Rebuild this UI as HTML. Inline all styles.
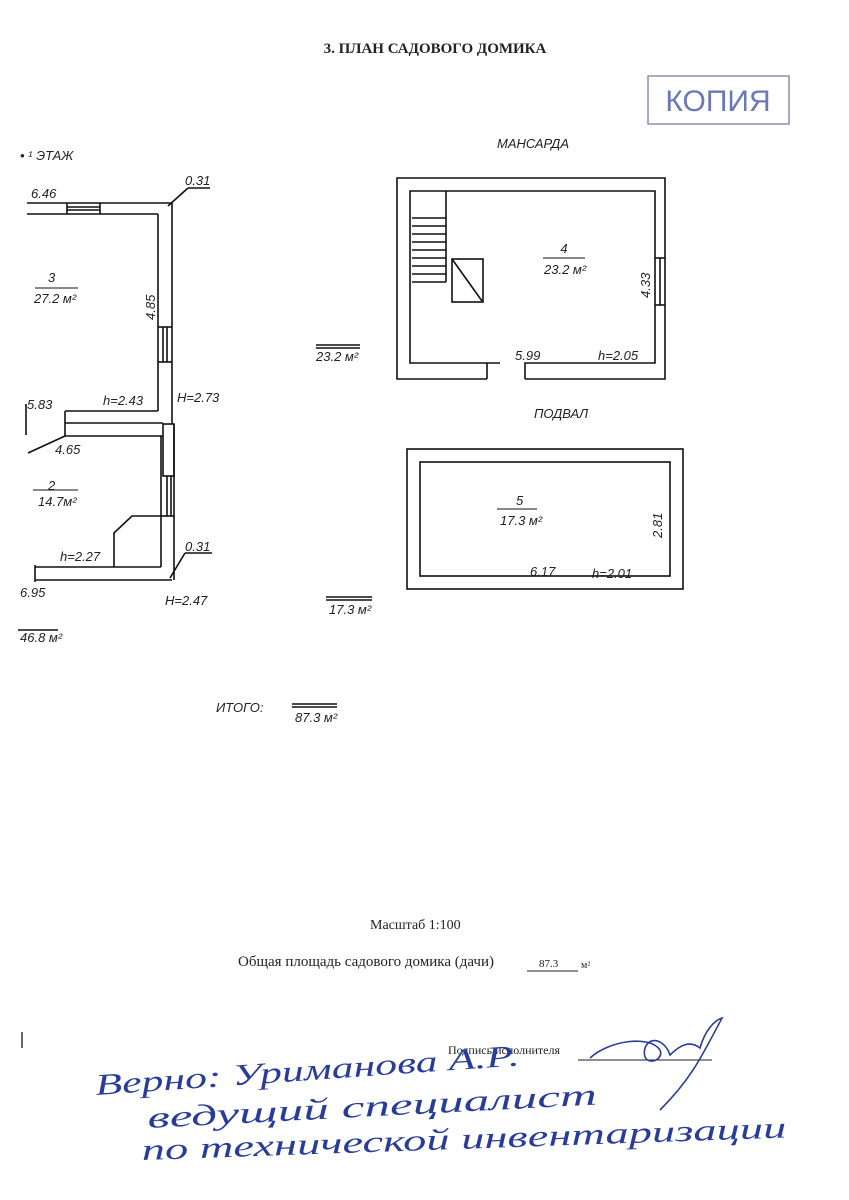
<!DOCTYPE html>
<html><head><meta charset="utf-8"><style>
html,body{margin:0;padding:0;background:#fff;}
svg{display:block;}
.t{font-family:"Liberation Sans","DejaVu Sans",sans-serif;font-style:italic;font-size:13px;fill:#222;}
.s{font-family:"Liberation Serif","DejaVu Serif",serif;fill:#222;}
.h{font-family:"Liberation Serif",serif;font-style:italic;fill:#2a3c9a;font-size:30px;}
</style></head><body>
<svg width="849" height="1200" viewBox="0 0 849 1200" xmlns="http://www.w3.org/2000/svg">
<rect width="849" height="1200" fill="#fff"/>
<text x="435" y="53" class="s" font-size="15" font-weight="bold" text-anchor="middle">3. ПЛАН САДОВОГО ДОМИКА</text>
<rect x="648" y="76" width="141" height="48" fill="none" stroke="#8a90b0" stroke-width="1.5"/>
<text x="718" y="111" font-family="Liberation Sans,sans-serif" font-size="30" fill="#6a78b8" text-anchor="middle">КОПИЯ</text>

<g stroke="#111" stroke-width="1.6" fill="none">
<line x1="27" y1="203" x2="172" y2="203"/>
<line x1="27" y1="214" x2="158" y2="214"/>
<line x1="67" y1="203" x2="67" y2="214"/><line x1="100" y1="203" x2="100" y2="214"/>
<line x1="67" y1="207" x2="100" y2="207"/><line x1="67" y1="210" x2="100" y2="210"/>
<line x1="172" y1="203" x2="172" y2="424"/>
<line x1="158" y1="214" x2="158" y2="411"/>
<line x1="158" y1="327" x2="172" y2="327"/><line x1="158" y1="362" x2="172" y2="362"/>
<line x1="163" y1="327" x2="163" y2="362"/><line x1="167" y1="327" x2="167" y2="362"/>
<line x1="188" y1="188" x2="168" y2="206"/><line x1="188" y1="188" x2="210" y2="188"/>
<line x1="65" y1="411" x2="158" y2="411"/>
<line x1="65" y1="423" x2="163" y2="423"/>
<line x1="65" y1="436" x2="163" y2="436"/>
<line x1="65" y1="411" x2="65" y2="436"/>
<line x1="65" y1="436" x2="28" y2="453"/>
<line x1="26" y1="404" x2="26" y2="435"/>
<rect x="163" y="424" width="11" height="52"/>
<line x1="174" y1="424" x2="174" y2="580"/>
<line x1="161" y1="436" x2="161" y2="567"/>
<line x1="167" y1="476" x2="167" y2="516"/><line x1="171" y1="476" x2="171" y2="516"/>
<line x1="161" y1="516" x2="174" y2="516"/>
<line x1="35" y1="567" x2="161" y2="567"/>
<line x1="35" y1="580" x2="172" y2="580"/>
<line x1="35" y1="565" x2="35" y2="582"/>
<polyline points="114,567 114,533 132,516 161,516"/>
<line x1="185" y1="553" x2="170" y2="578"/><line x1="185" y1="553" x2="212" y2="553"/>
<line x1="18" y1="630" x2="58" y2="630"/>

<polyline points="487,379 397,379 397,178 665,178 665,379 525,379"/>
<line x1="487" y1="379" x2="487" y2="369"/><line x1="525" y1="379" x2="525" y2="369"/>
<polyline points="500,363 410,363 410,191 655,191 655,363 525,363 525,369"/>
<line x1="487" y1="363" x2="487" y2="369"/>
<line x1="655" y1="258" x2="665" y2="258"/><line x1="655" y1="305" x2="665" y2="305"/>
<line x1="660" y1="258" x2="660" y2="305"/>
<line x1="446" y1="191" x2="446" y2="282"/>
<line x1="412" y1="218" x2="446" y2="218"/><line x1="412" y1="226" x2="446" y2="226"/>
<line x1="412" y1="234" x2="446" y2="234"/><line x1="412" y1="242" x2="446" y2="242"/>
<line x1="412" y1="250" x2="446" y2="250"/><line x1="412" y1="258" x2="446" y2="258"/>
<line x1="412" y1="266" x2="446" y2="266"/><line x1="412" y1="274" x2="446" y2="274"/>
<line x1="412" y1="282" x2="446" y2="282"/>
<rect x="452" y="259" width="31" height="43"/>
<line x1="452" y1="259" x2="482" y2="301"/>
<line x1="543" y1="258" x2="585" y2="258" stroke-width="1"/>
<line x1="316" y1="345" x2="360" y2="345"/><line x1="316" y1="348" x2="360" y2="348"/>
<rect x="407" y="449" width="276" height="140"/>
<rect x="420" y="462" width="250" height="114"/>
<line x1="497" y1="509" x2="537" y2="509" stroke-width="1"/>
<line x1="326" y1="597" x2="372" y2="597"/><line x1="326" y1="600" x2="372" y2="600"/>
<line x1="292" y1="704" x2="337" y2="704"/><line x1="292" y1="707" x2="337" y2="707"/>
<line x1="35" y1="288" x2="78" y2="288" stroke-width="1"/>
<line x1="33" y1="490" x2="78" y2="490" stroke-width="1"/>
</g>

<text x="20" y="160" class="t" font-size="14">• ¹ ЭТАЖ</text>
<text x="31" y="198" class="t">6.46</text>
<text x="185" y="185" class="t" font-size="12">0.31</text>
<text x="48" y="282" class="t">3</text>
<text x="34" y="303" class="t">27.2 м²</text>
<text x="155" y="320" class="t" transform="rotate(-90 155 320)">4.85</text>
<text x="27" y="409" class="t">5.83</text>
<text x="103" y="405" class="t">h=2.43</text>
<text x="177" y="402" class="t">H=2.73</text>
<text x="55" y="454" class="t">4.65</text>
<text x="48" y="490" class="t">2</text>
<text x="38" y="506" class="t">14.7м²</text>
<text x="60" y="561" class="t">h=2.27</text>
<text x="185" y="551" class="t" font-size="12">0.31</text>
<text x="20" y="597" class="t">6.95</text>
<text x="165" y="605" class="t">H=2.47</text>
<text x="20" y="642" class="t">46.8 м²</text>

<text x="497" y="148" class="t" font-size="14">МАНСАРДА</text>
<text x="564" y="253" class="t" text-anchor="middle">4</text>
<text x="544" y="274" class="t">23.2 м²</text>
<text x="650" y="298" class="t" transform="rotate(-90 650 298)">4.33</text>
<text x="515" y="360" class="t">5.99</text>
<text x="598" y="360" class="t">h=2.05</text>
<text x="316" y="361" class="t">23.2 м²</text>
<text x="534" y="418" class="t" font-size="14">ПОДВАЛ</text>
<text x="516" y="505" class="t">5</text>
<text x="500" y="525" class="t">17.3 м²</text>
<text x="662" y="538" class="t" transform="rotate(-90 662 538)">2.81</text>
<text x="530" y="576" class="t">6.17</text>
<text x="592" y="578" class="t">h=2.01</text>
<text x="329" y="614" class="t">17.3 м²</text>
<text x="216" y="712" class="t">ИТОГО:</text>
<text x="295" y="722" class="t">87.3 м²</text>

<text x="370" y="929" class="s" font-size="14">Масштаб  1:100</text>
<text x="238" y="966" class="s" font-size="15">Общая площадь садового домика (дачи)</text>
<line x1="527" y1="971" x2="578" y2="971" stroke="#222" stroke-width="1"/>
<text x="539" y="967" class="s" font-size="11">87.3</text>
<text x="581" y="968" class="s" font-size="10">м²</text>
<text x="448" y="1054" class="s" font-size="12">Подпись исполнителя</text>
<line x1="578" y1="1060" x2="712" y2="1060" stroke="#222" stroke-width="1"/>
<line x1="22" y1="1032" x2="22" y2="1048" stroke="#333" stroke-width="1.5"/>
<g fill="none" stroke="#2a3c9a" stroke-width="1.6">
<path d="M590,1058 C610,1040 650,1035 660,1050 C665,1062 640,1068 645,1048 C650,1035 665,1040 670,1055 C680,1045 690,1040 700,1048 C705,1030 715,1020 722,1018 C700,1060 690,1080 660,1110"/>
</g>
<text x="96" y="1095" class="h" font-size="34" textLength="425" lengthAdjust="spacingAndGlyphs" transform="rotate(-4 96 1095)">Верно: Уриманова А.Р.</text>
<text x="148" y="1128" class="h" font-size="34" textLength="450" lengthAdjust="spacingAndGlyphs" transform="rotate(-3 148 1128)">ведущий специалист</text>
<text x="142" y="1160" class="h" font-size="34" textLength="645" lengthAdjust="spacingAndGlyphs" transform="rotate(-2 142 1160)">по технической инвентаризации</text>
</svg>
</body></html>
